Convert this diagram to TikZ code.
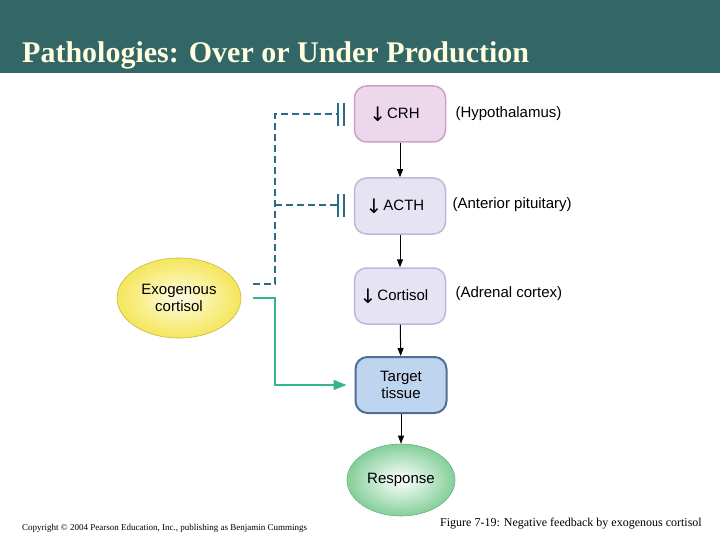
\documentclass[tikz,border=0pt]{standalone}
\usepackage{fontspec}
\setmainfont{Liberation Sans}
\newfontfamily\titlefont{Liberation Serif}
\newfontfamily\symfont{DejaVu Sans}
\usetikzlibrary{arrows.meta,shapes.geometric}
\definecolor{hdr}{HTML}{336666}
\definecolor{hdrtxt}{HTML}{FFFFE0}
\definecolor{crhfill}{HTML}{EDD7EA}
\definecolor{crhdraw}{HTML}{C9A2C6}
\definecolor{lavfill}{HTML}{E6E3F3}
\definecolor{lavdraw}{HTML}{BDB8DC}
\definecolor{ttfill}{HTML}{BFD4EF}
\definecolor{ttdraw}{HTML}{4F6F96}
\definecolor{fbblue}{HTML}{2C6A8C}
\definecolor{exgreen}{HTML}{35B688}
\definecolor{yel}{HTML}{F5E65A}
\definecolor{yelin}{HTML}{FFFCE6}
\definecolor{grn}{HTML}{84CF9A}
\tikzset{
  box/.style={rectangle, rounded corners=12pt, minimum width=91pt, minimum height=56pt, line width=1.5pt, font=\fontsize{15}{17}\selectfont, align=center},
  side/.style={anchor=west, font=\fontsize{15}{17}\selectfont},
  flow/.style={draw=black, line width=1pt, -{Triangle[length=8pt,width=6pt]}},
  fb/.style={draw=fbblue, line width=2pt, dash pattern=on 7pt off 4pt},
  bar/.style={draw=fbblue, line width=2pt},
  exo/.style={draw=exgreen, line width=1.6pt, -{Triangle[length=13pt,width=10pt]}}
}
\newcommand{\dn}{\raisebox{-3pt}{\symfont\fontsize{20}{20}\selectfont\char"2193}\hspace{1pt}}
\begin{document}
\begin{tikzpicture}[x=1pt,y=-1pt]
\useasboundingbox (0,0) rectangle (720,540);
\fill[white] (0,0) rectangle (720,540);
\fill[hdr] (0,0) rectangle (720,73);
\node[anchor=base west, text=hdrtxt, font=\titlefont\bfseries\fontsize{30}{32}\selectfont, inner sep=0pt] (title) at (22,63) {Pathologies: Over or Under Production};

\node[box, fill=crhfill, draw=crhdraw] (crh) at (400,114) {\hspace*{-11pt}\dn CRH};
\node[box, fill=lavfill, draw=lavdraw] (acth) at (400,206) {\hspace*{-10pt}\dn ACTH};
\node[box, fill=lavfill, draw=lavdraw] (cort) at (400,296) {\hspace*{-12pt}\dn Cortisol};
\node[box, fill=ttfill, draw=ttdraw, line width=2pt] (tt) at (401,385) {Target\\tissue};
\node[ellipse, minimum width=108pt, minimum height=72pt, inner color=white, outer color=grn, draw=grn!85!black, line width=0.6pt, font=\fontsize{15}{17}\selectfont] (resp) at (401,480) {Response};
\node[ellipse, minimum width=124pt, minimum height=80pt, inner color=yelin, outer color=yel, draw=yel!80!black, line width=0.6pt, align=center, font=\fontsize{15}{17}\selectfont] (exo) at (179,298) {Exogenous\\cortisol};

\node[side] (l1) at (452,114) {(Hypothalamus)};
\node[side] (l2) at (449,205) {(Anterior pituitary)};
\node[side] (l3) at (452,294) {(Adrenal cortex)};

\draw[flow] (crh) -- (acth);
\draw[flow] (acth) -- (cort);
\draw[flow] (cort) -- (tt);
\draw[flow] (tt) -- (resp);

% feedback
\coordinate (d0) at (253,284);
\coordinate (dc) at (275,284);
\coordinate (i1) at (338,114);
\coordinate (i2) at (338,205);
\draw[fb] (d0) -- (dc) |- (i1);
\draw[fb] (275,205) -- (i2);
\foreach \y in {114,205}{
  \draw[bar] (338,\y-11) -- (338,\y+12);
  \draw[bar] (344,\y-11) -- (344,\y+12);
}
% exogenous to target
\coordinate (g0) at (253,298);
\draw[exo, shorten >=8pt] (g0) -- (275,298) |- (tt.west);

\node[anchor=base west, font=\titlefont\fontsize{9}{10}\selectfont, inner sep=0pt] (copy) at (22,530) {Copyright \textcopyright\ 2004 Pearson Education, Inc., publishing as Benjamin Cummings};
\node[anchor=base west, font=\titlefont\fontsize{12}{14}\selectfont, inner sep=0pt] (cap) at (440,526) {Figure 7-19: Negative feedback by exogenous cortisol};
\end{tikzpicture}
\end{document}
